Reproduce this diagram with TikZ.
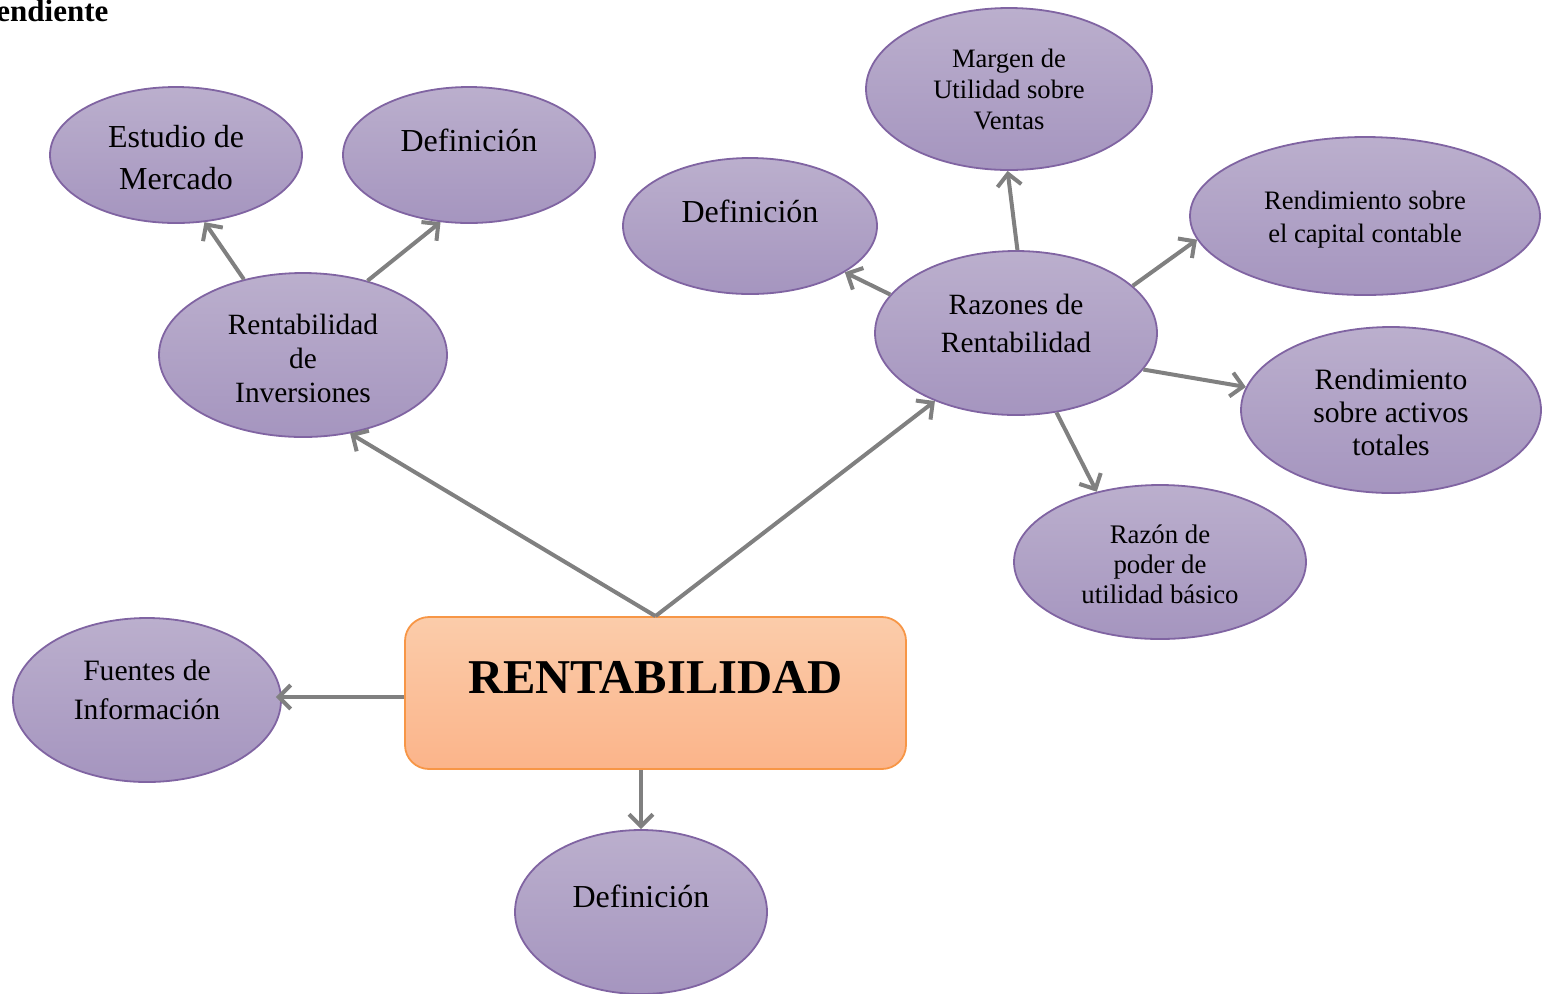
\documentclass[tikz,border=0pt]{standalone}
\usepackage{fontspec}
\setmainfont{Liberation Serif}
\usetikzlibrary{shapes.geometric,arrows.meta}
\definecolor{elltop}{RGB}{187,175,205}
\definecolor{ellbot}{RGB}{165,149,191}
\definecolor{elldraw}{RGB}{128,100,162}
\definecolor{boxtop}{RGB}{251,204,170}
\definecolor{boxbot}{RGB}{251,180,138}
\definecolor{boxdraw}{RGB}{247,150,70}
\definecolor{arr}{RGB}{128,128,128}
\newcommand\mytxt[2]{\raisebox{#1}[\height][\depth]{\begin{tabular}{@{}c@{}}#2\end{tabular}}}
\begin{document}
\begin{tikzpicture}[x=0.5pt,y=-0.5pt,
  bub/.style={ellipse,draw=elldraw,line width=0.9pt,top color=elltop,bottom color=ellbot,inner sep=0pt},
  rentbox/.style={rectangle,rounded corners=12pt,draw=boxdraw,line width=0.9pt,top color=boxtop,bottom color=boxbot,inner sep=0pt,minimum width=250.5pt,minimum height=76pt,font=\bfseries\fontsize{24.3}{29}\selectfont},
  con/.style={draw=arr,line width=2pt,-{Straight Barb[length=6pt,width=12pt]}},
  fA/.style={font=\fontsize{16}{21}\selectfont}]
\useasboundingbox (0,0) rectangle (1548,993);

\node[anchor=base west,font=\bfseries\fontsize{15.5}{18}\selectfont,inner sep=0pt] (title) at (-4,21) {endiente};

\node[rentbox] (rent) at (655.5,693) {\raisebox{7.5pt}[\height][\depth]{RENTABILIDAD}};

\node[bub,fA,minimum width=126pt,minimum height=68pt] (estudio) at (176,155) {\mytxt{-2.5pt}{Estudio de\\Mercado}};
\node[bub,fA,minimum width=126pt,minimum height=68pt] (deftl) at (469,155) {\mytxt{6pt}{Definición}};
\node[bub,font=\fontsize{14.7}{17}\selectfont,minimum width=144pt,minimum height=82pt] (rinv) at (303,355) {\mytxt{-3.5pt}{Rentabilidad\\de\\Inversiones}};
\node[bub,fA,minimum width=127pt,minimum height=68pt] (defmid) at (750,226) {\mytxt{6pt}{Definición}};
\node[bub,font=\fontsize{13.3}{15.5}\selectfont,minimum width=143pt,minimum height=81pt] (margen) at (1009,89) {\mytxt{-1.5pt}{Margen de\\Utilidad sobre\\Ventas}};
\node[bub,font=\fontsize{13.3}{16.5}\selectfont,minimum width=175pt,minimum height=79pt] (rcap) at (1365,216) {\mytxt{-1.5pt}{Rendimiento sobre\\el capital contable}};
\node[bub,font=\fontsize{14.7}{19}\selectfont,minimum width=141pt,minimum height=82pt] (raz) at (1016,333) {\mytxt{3.5pt}{Razones de\\Rentabilidad}};
\node[bub,font=\fontsize{14.8}{16.5}\selectfont,minimum width=150pt,minimum height=83pt] (ract) at (1391,410) {\mytxt{-3pt}{Rendimiento\\sobre activos\\totales}};
\node[bub,font=\fontsize{13.4}{15}\selectfont,minimum width=146pt,minimum height=77pt] (rpoder) at (1160,562) {\mytxt{-2.5pt}{Razón de\\poder de\\utilidad básico}};
\node[bub,font=\fontsize{14.8}{19.5}\selectfont,minimum width=134pt,minimum height=82pt] (fuentes) at (147,700) {\mytxt{4pt}{Fuentes de\\Información}};
\node[bub,fA,minimum width=126pt,minimum height=82pt] (defbot) at (641,912) {\mytxt{6.5pt}{Definición}};

\coordinate (fs) at ([yshift=-2pt]rent.west);
\coordinate (fe) at ([xshift=-3pt]fuentes.east);

\draw[con] (rent.north) -- (rinv.-59);
\draw[con] (rent.north) -- (raz.-140);
\draw[con] (rinv.128) -- (estudio.-67);
\draw[con] (rinv.49) -- (deftl.-113);
\draw[con] (raz.163) -- (defmid.-26);
\draw[con] (raz.89) -- (margen.-91);
\draw[con] (raz.22) -- (rcap.-172);
\draw[con] (raz.-16) -- (ract.171);
\draw[con] (raz.-63) -- (rpoder.132);
\draw[con] (fs) -- (fe |- fs);
\draw[con] (defbot.north |- rent.south) -- (defbot.north);
\end{tikzpicture}
\end{document}
